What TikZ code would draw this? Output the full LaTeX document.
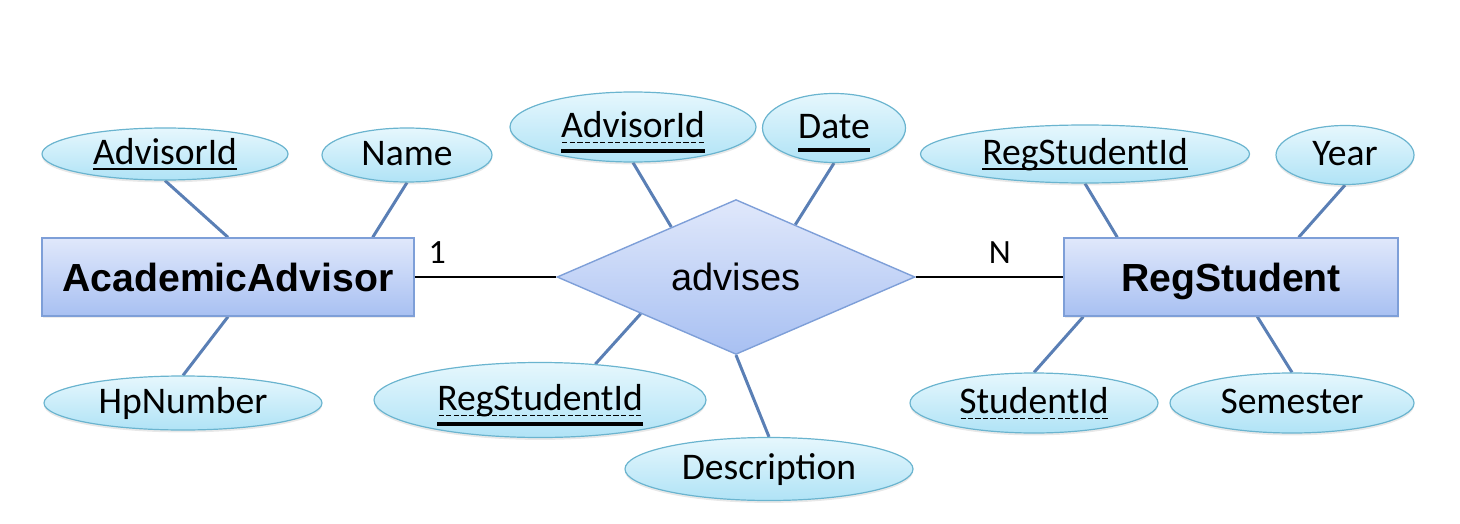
\documentclass[tikz,border=0pt]{standalone}
\usepackage{fontspec}
\setmainfont{Carlito}
\newfontfamily\arialf{Liberation Sans}
\usetikzlibrary{shapes.geometric,calc,backgrounds,shadows}
\definecolor{attrfillT}{HTML}{E6F7FD}
\definecolor{attrfillB}{HTML}{B0E3F6}
\definecolor{attrdraw}{HTML}{6AB4CF}
\definecolor{entfillT}{HTML}{E0E8FB}
\definecolor{entfillB}{HTML}{A8C0F2}
\definecolor{entdraw}{HTML}{7E9FD8}
\definecolor{conncol}{HTML}{5A7FB5}
\newsavebox\ulboxA
\newcommand\ulsolid[3]{\sbox\ulboxA{#3}\rlap{\smash{\rule[-#1]{\wd\ulboxA}{#2}}}\usebox\ulboxA}
\newcommand\uldash[1]{\sbox\ulboxA{#1}\rlap{\smash{\raisebox{-3.2pt}{\hbox to\wd\ulboxA{\xleaders\hbox{\kern0.55pt\rule{2.6pt}{0.8pt}\kern0.55pt}\hfil}}}}\usebox\ulboxA}
\newcommand\ulboth[1]{\sbox\ulboxA{#1}\rlap{\smash{\raisebox{-3.2pt}{\hbox to\wd\ulboxA{\xleaders\hbox{\kern0.55pt\rule{2.6pt}{0.8pt}\kern0.55pt}\hfil}}}}\rlap{\smash{\rule[-8pt]{\wd\ulboxA}{2pt}}}\usebox\ulboxA}
\tikzset{
  attr/.style={ellipse, draw=attrdraw, line width=0.6pt, top color=attrfillT, bottom color=attrfillB,
    inner sep=0pt, text height=13pt, text depth=3pt, font=\fontsize{18.8}{22}\selectfont,
    drop shadow={shadow xshift=0pt, shadow yshift=-1.2pt, opacity=0.18}},
  entity/.style={rectangle, draw=entdraw, line width=0.7pt, top color=entfillT, bottom color=entfillB,
    inner sep=0pt, minimum width=#1, minimum height=39pt, text height=14pt, text depth=0pt,
    font=\arialf\bfseries\fontsize{19.6}{23}\selectfont,
    drop shadow={shadow xshift=0.6pt, shadow yshift=-0.8pt, opacity=0.15}},
  relship/.style={diamond, draw=entdraw, line width=0.7pt, top color=entfillT, bottom color=entfillB,
    inner sep=0pt, minimum width=179pt, minimum height=76.5pt, text height=13pt, text depth=0pt,
    font=\arialf\fontsize{19}{22}\selectfont},
  conn/.style={draw=conncol, line width=1.5pt},
  rel/.style={draw=black, line width=1.2pt},
  card/.style={font=\fontsize{17}{20}\selectfont, inner sep=0pt}
}
\begin{document}
\begin{tikzpicture}[x=0.5pt,y=-0.5pt]
\useasboundingbox (0,0) rectangle (1460,524);
% entities
\node[entity=186pt] (aa) at (228,277) {AcademicAdvisor};
\node[entity=167pt] (rs) at (1231,277) {RegStudent};
\node[relship] (rl) at (736,277) {advises};
% attributes of AcademicAdvisor
\node[attr, minimum width=123pt, minimum height=26pt] (a1) at (165,154) {\ulsolid{3pt}{1pt}{AdvisorId}};
\node[attr, minimum width=85pt, minimum height=27pt] (a2) at (407,155) {Name};
\node[attr, minimum width=139pt, minimum height=27pt] (a3) at (183,403) {HpNumber};
% attributes of advises
\node[attr, minimum width=123pt, minimum height=35pt] (r1) at (633,127) {\ulboth{AdvisorId}};
\node[attr, minimum width=71.5pt, minimum height=34.5pt] (r2) at (834,128) {\ulsolid{7pt}{2pt}{Date}};
\node[attr, minimum width=166pt, minimum height=37.5pt] (r3) at (540,400) {\ulboth{RegStudentId}};
\node[attr, minimum width=144pt, minimum height=31.5pt] (r4) at (769,469) {Description};
% attributes of RegStudent
\node[attr, minimum width=164.5pt, minimum height=29pt] (s1) at (1085,154) {\ulsolid{3pt}{1pt}{RegStudentId}};
\node[attr, minimum width=69pt, minimum height=29.5pt] (s2) at (1345,155) {Year};
\node[attr, minimum width=124pt, minimum height=30pt] (s3) at (1034,403) {\uldash{StudentId}};
\node[attr, minimum width=122pt, minimum height=30pt] (s4) at (1292,403) {Semester};
\begin{scope}[on background layer]
\draw[conn] (a1.south) -- (aa.north);
\draw[conn] (a2.south) -- ($(aa.north east)+(-42,0)$);
\draw[conn] (aa.south) -- (a3.north);
\draw[conn] (r1.south) -- ($(rl.west)!0.64!(rl.north)$);
\draw[conn] (r2.south) -- ($(rl.north)!0.33!(rl.east)$);
\draw[conn] ($(rl.west)!0.47!(rl.south)$) -- (r3.33);
\draw[conn] (rl.south) -- (r4.north);
\draw[conn] (s1.south) -- ($(rs.north west)+(54,0)$);
\draw[conn] (s2.south) -- ($(rs.north east)+(-100,0)$);
\draw[conn] ($(rs.south west)+(20,0)$) -- (s3.north);
\draw[conn] ($(rs.south west)+(194,0)$) -- (s4.north);
\end{scope}
\draw[rel] (aa.east) -- node[card, pos=0.16, yshift=12pt] (c1) {1} (rl.west);
\draw[rel] (rl.east) -- node[card, pos=0.57, yshift=12pt] (c2) {N} (rs.west);
\end{tikzpicture}
\end{document}
